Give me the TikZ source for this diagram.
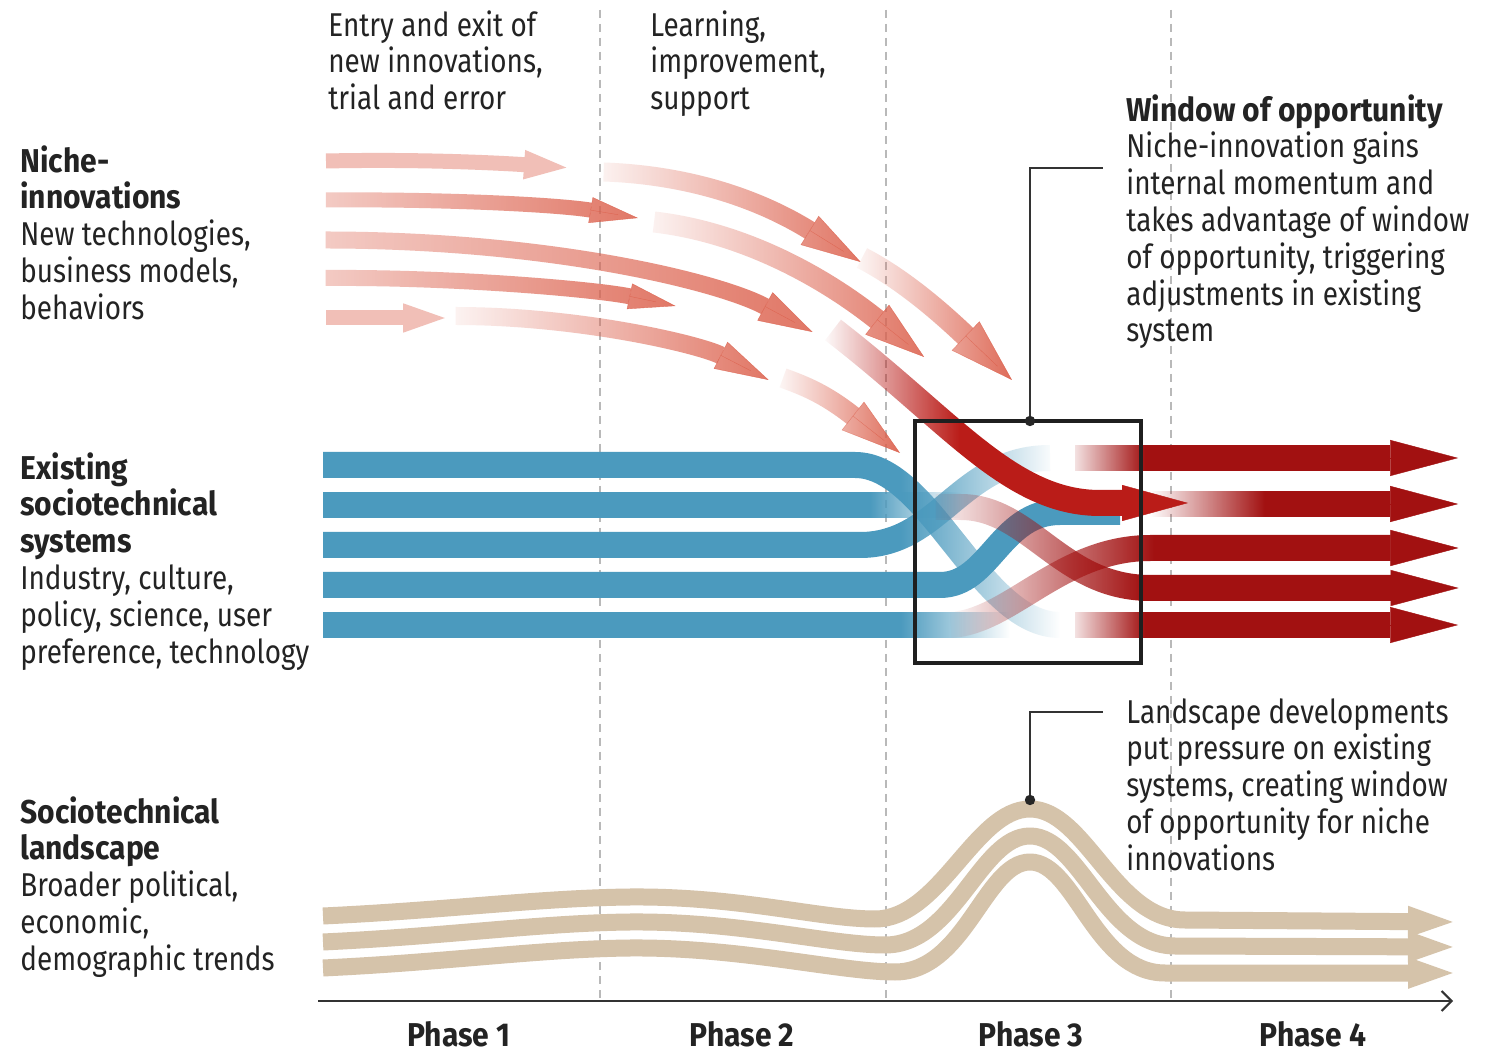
\documentclass[tikz,border=0pt]{standalone}
\usepackage{fontspec}
\setmainfont{Fira Sans}[FakeStretch=0.845, BoldFeatures={FakeStretch=0.91}]
\usetikzlibrary{arrows.meta,fadings,calc}
\definecolor{txt}{RGB}{35,35,35}
\definecolor{blu}{RGB}{75,154,190}
\definecolor{nich}{RGB}{220,96,76}
\definecolor{mainr}{RGB}{186,28,24}
\definecolor{outr}{RGB}{162,17,17}
\definecolor{tanc}{RGB}{213,195,170}
\definecolor{dashc}{RGB}{185,185,185}

\begin{tikzfadingfrompicture}[name=fadeLR]
  \fill[transparent!100] (-1500pt,-1000pt) rectangle (-50pt,1000pt);
  \shade[left color=transparent!100, right color=transparent!0] (-50pt,-1000pt) rectangle (50pt,1000pt);
  \fill[transparent!0] (50pt,-1000pt) rectangle (1500pt,1000pt);
\end{tikzfadingfrompicture}
\begin{tikzfadingfrompicture}[name=fadeRL]
  \fill[transparent!0] (-1500pt,-1000pt) rectangle (-50pt,1000pt);
  \shade[left color=transparent!0, right color=transparent!100] (-50pt,-1000pt) rectangle (50pt,1000pt);
  \fill[transparent!100] (50pt,-1000pt) rectangle (1500pt,1000pt);
\end{tikzfadingfrompicture}

% faded band with its head drawn separately (so that they do not overlap)
% #1 fading, #2 band style, #3 head length, #4 head width, #5 path, #6 point on end tangent, #7 end point
\newcommand{\farrow}[7]{%
  \draw[#1, #2, shorten >={#3-0.1pt}] #5;
  \draw[#1, #2, line width=0.2pt, -{Triangle[length=#3,width=#4]}] ($#7!10pt!#6$) -- #7;
}

\tikzset{
  body/.style={anchor=north west, align=left, inner sep=0pt, text=txt, font=\fontsize{16.5}{18.4}\selectfont},
  phase/.style={inner sep=0pt, text=txt, font=\fontsize{16.5}{18.4}\selectfont\bfseries},
  fin/.style 2 args={path fading=fadeLR, fit fading=false, fading transform={shift={({(#1+#2)/2},0)}, xscale={(#2-#1)/200}}},
  fout/.style 2 args={path fading=fadeRL, fit fading=false, fading transform={shift={({(#1+#2)/2},0)}, xscale={(#2-#1)/200}}},
  band/.style={line cap=butt, line join=round},
  phaseline/.style={draw=dashc, line width=0.8pt, dash pattern=on 4pt off 3pt},
  axisline/.style={draw=black!80, line width=1pt, -{Straight Barb[length=5pt,width=10pt]}},
  boxline/.style={draw=black!88, line width=1.75pt},
  callout/.style={draw=black!80, line width=0.9pt},
  land/.style={band, draw=tanc, line width=8.5pt, -{Triangle[length=25pt,width=13.5pt]}},
  blueband/.style={band, draw=blu, line width=13pt},
  outband/.style={band, draw=outr, line width=13pt},
  nb/.style={band, draw=nich},
}

\begin{document}
\lineskiplimit=-50pt
\begin{tikzpicture}[x=0.5pt,y=-0.5pt]
\useasboundingbox (0,0) rectangle (1494,1052);
\fill[white] (0,0) rectangle (1494,1052);

% phase separators
\coordinate (d1t) at (600,10);  \coordinate (d1b) at (600,1000);
\coordinate (d2t) at (886,10);  \coordinate (d2b) at (886,1000);
\coordinate (d3t) at (1171,10); \coordinate (d3b) at (1171,1000);
\draw[phaseline] (d1t) -- (d1b);
\draw[phaseline] (d2t) -- (d2b);
\draw[phaseline] (d3t) -- (d3b);

% axis
\coordinate (ax0) at (318,1001);
\coordinate (ax1) at (1453,1001);
\draw[axisline] (ax0) -- (ax1);

% landscape
\draw[land] (323,916) .. controls (450,910) and (540,898) .. (630,897) .. controls (740,896) and (820,919) .. (875,919) .. controls (940,919) and (975,809) .. (1030,809) .. controls (1085,809) and (1115,920) .. (1185,920) -- (1458,922);
\draw[land] (323,942) .. controls (450,936) and (540,923) .. (630,922) .. controls (740,921) and (830,945) .. (885,945) .. controls (955,945) and (980,836) .. (1030,836) .. controls (1080,836) and (1105,946) .. (1175,946) -- (1458,947);
\draw[land] (323,968) .. controls (450,962) and (540,949) .. (630,948) .. controls (740,947) and (840,972) .. (895,972) .. controls (965,972) and (985,862) .. (1030,862) .. controls (1075,862) and (1095,973) .. (1165,973) -- (1458,973);

% existing system (blue)
\draw[blueband, fout={900}{1010}] (323,625) -- (1010,625);
\draw[blueband, fout={900}{1055}] (323,545) -- (860,545) .. controls (940,545) and (960,458) .. (1050,458);
\draw[blueband, fout={900}{1060}] (323,465) -- (855,465) .. controls (930,465) and (980,625) .. (1060,625);
\draw[blueband, fout={870}{960}] (323,505) -- (960,505);
\draw[blueband] (323,585) -- (940,585) .. controls (990,585) and (1000,512) .. (1060,512) -- (1120,512);

% reconfigured system (red)
\farrow{fin={948}{1155}}{outband}{34pt}{18pt}{(950,625) .. controls (1010,622) and (1060,548) .. (1150,548) -- (1458,548)}{(1150,548)}{(1458,548)}
\farrow{fin={927}{1144}}{outband}{34pt}{18pt}{(935,507) -- (960,507) .. controls (1030,507) and (1060,588) .. (1150,588) -- (1458,588)}{(1150,588)}{(1458,588)}
\farrow{fin={1065}{1145}}{outband}{34pt}{18pt}{(1075,458) -- (1458,458)}{(1075,458)}{(1458,458)}
\farrow{fin={1065}{1145}}{outband}{34pt}{18pt}{(1075,625) -- (1458,625)}{(1075,625)}{(1458,625)}
\farrow{fin={1150}{1265}}{outband}{34pt}{18pt}{(1150,504) -- (1458,504)}{(1150,504)}{(1458,504)}

% niche innovations
\draw[band, draw=nich!40, line width=7.5pt, -{Triangle[length=24pt,width=12.5pt]}] (326,161) .. controls (420,159) and (500,163) .. (572,168);
\farrow{fin={128}{728}}{nb, line width=7.5pt}{24pt}{13pt}{(326,200) .. controls (450,199) and (560,205) .. (638,218)}{(560,205)}{(638,218)}
\farrow{fin={17}{954}}{nb, line width=8.5pt}{27pt}{16pt}{(326,240) .. controls (550,240) and (720,282) .. (813,332)}{(720,282)}{(813,332)}
\farrow{fin={104}{777}}{nb, line width=8pt}{23.5pt}{13pt}{(326,278) .. controls (460,277) and (600,290) .. (676,306)}{(600,290)}{(676,306)}
\draw[band, draw=nich!40, line width=7.5pt, -{Triangle[length=23.5pt,width=12.5pt]}] (326,318) -- (450,318);
\farrow{fin={425}{826}}{nb, line width=9pt}{27pt}{15pt}{(455,316) .. controls (580,316) and (700,345) .. (768,380)}{(700,345)}{(768,380)}
\farrow{fin={575}{905}}{nb, line width=9.5pt}{30pt}{17pt}{(603,172) .. controls (690,175) and (760,200) .. (860,262)}{(760,200)}{(860,262)}
\farrow{fin={625}{970}}{nb, line width=10.5pt}{30pt}{19pt}{(653,222) .. controls (740,232) and (820,275) .. (923,357)}{(820,275)}{(923,357)}
\farrow{fin={848}{1025}}{nb, line width=11pt}{32pt}{20pt}{(862,258) .. controls (895,275) and (930,302) .. (1012,380)}{(930,302)}{(1012,380)}
\farrow{fin={772}{910}}{nb, line width=10pt}{30pt}{18pt}{(783,378) .. controls (805,386) and (825,394) .. (900,453)}{(825,394)}{(900,453)}
\farrow{fin={822}{960}}{band, draw=mainr, line width=13pt}{33pt}{18pt}{(833,330) .. controls (950,420) and (1010,503) .. (1100,503) -- (1188,503)}{(1100,503)}{(1188,503)}

% window of opportunity box and callouts
\coordinate (bx1) at (915,421);
\coordinate (bx2) at (1141,663);
\draw[boxline] (bx1) rectangle (bx2);
\coordinate (c1) at (1030,421);
\coordinate (c1b) at (1030,168);
\coordinate (c1c) at (1103,168);
\draw[callout] (c1) -- (c1b) -- (c1c);
\fill[black!85] (c1) circle (2.6pt);
\coordinate (c2) at (1030,800);
\coordinate (c2b) at (1030,712);
\coordinate (c2c) at (1103,712);
\draw[callout] (c2) -- (c2b) -- (c2c);
\fill[black!85] (c2) circle (2.6pt);

% texts
\node[body] (tEntry) at (328,10) {\strut Entry and exit of\\new innovations,\\trial and error};
\node[body] (tLearn) at (650,10) {\strut Learning,\\improvement,\\support};
\node[body] (tNiche) at (20,145) {\strut\textbf{Niche-}\\\textbf{innovations}\\New technologies,\\business models,\\behaviors};
\node[body] (tExist) at (20,452) {\strut\textbf{Existing}\\\textbf{sociotechnical}\\\textbf{systems}\\Industry, culture,\\policy, science, user\\preference, technology};
\node[body] (tLand) at (20,796) {\strut\textbf{Sociotechnical}\\\textbf{landscape}\\Broader political,\\economic,\\demographic trends};
\node[body] (tWin) at (1126,94) {\strut\textbf{Window of opportunity}\\Niche-innovation gains\\internal momentum and\\takes advantage of window\\of opportunity, triggering\\adjustments in existing\\system};
\node[body] (tLdev) at (1126,697) {\strut Landscape developments\\put pressure on existing\\systems, creating window\\of opportunity for niche\\innovations};

\node[phase] (p1) at (459,1034) {Phase 1};
\node[phase] (p2) at (742,1034) {Phase 2};
\node[phase] (p3) at (1031,1034) {Phase 3};
\node[phase] (p4) at (1313,1034) {Phase 4};
\end{tikzpicture}
\end{document}
